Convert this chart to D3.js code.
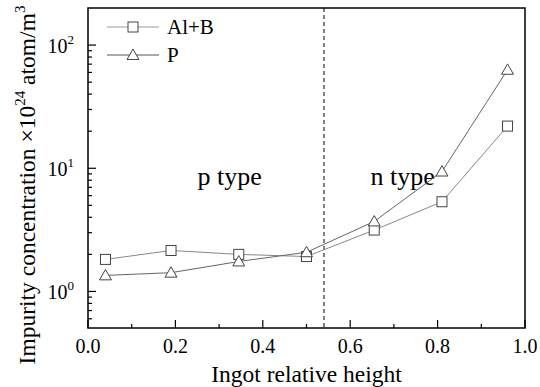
<!DOCTYPE html>
<html>
<head>
<meta charset="utf-8">
<script src="https://cdn.jsdelivr.net/npm/d3@7"></script>
<style>
  body { margin: 0; background: #fff; }
  text { font-family: "Liberation Serif", "DejaVu Serif", serif; }
</style>
</head>
<body>
<svg id="chart" width="540" height="387"></svg>
<script>
// data
var heights = [0.04, 0.19, 0.345, 0.5, 0.655, 0.81, 0.96];
var alB = [1.82, 2.15, 2.0, 1.92, 3.15, 5.35, 22];
var phos = [1.35, 1.42, 1.75, 2.08, 3.7, 9.4, 63];
var xTicks = [0.0, 0.2, 0.4, 0.6, 0.8, 1.0];
var yTicks = [1, 10, 100];
var borderX = 0.54;

var serif = "Liberation Serif, Times New Roman, serif";

var svg = d3.select("#chart").attr("font-family", serif),
    margin = {top: 8, right: 15, bottom: 59, left: 88},
    width = 540 - margin.left - margin.right,
    height = 387 - margin.top - margin.bottom,
    g = svg.append("g").attr("transform", "translate(" + margin.left + "," + margin.top + ")");

var x = d3.scaleLinear().domain([0, 1]).range([0, width]);
var y = d3.scaleLog().domain([0.505, 200]).range([height, 0]);

// minor ticks
var xMinor = d3.range(0.1, 1.0, 0.2);
g.selectAll(".xminor").data(xMinor).enter().append("line")
    .attr("x1", function(d) { return x(d); }).attr("x2", function(d) { return x(d); })
    .attr("y1", height).attr("y2", height - 4)
    .attr("stroke", "#000").attr("stroke-width", 1.2);
g.selectAll(".xmajor").data(xTicks).enter().append("line")
    .attr("x1", function(d) { return x(d); }).attr("x2", function(d) { return x(d); })
    .attr("y1", height).attr("y2", height - 8)
    .attr("stroke", "#000").attr("stroke-width", 1.2);

var yMinor = [];
[0.1, 1, 10, 100].forEach(function(dec) {
  for (var k = 2; k <= 9; k++) {
    var v = dec * k;
    if (v > 0.505 && v < 200) yMinor.push(v);
  }
});
g.selectAll(".yminor").data(yMinor).enter().append("line")
    .attr("x1", 0).attr("x2", 4)
    .attr("y1", function(d) { return y(d); }).attr("y2", function(d) { return y(d); })
    .attr("stroke", "#000").attr("stroke-width", 1.2);
g.selectAll(".ymajor").data(yTicks).enter().append("line")
    .attr("x1", 0).attr("x2", 8)
    .attr("y1", function(d) { return y(d); }).attr("y2", function(d) { return y(d); })
    .attr("stroke", "#000").attr("stroke-width", 1.2);

// frame
g.append("rect").attr("width", width).attr("height", height)
    .attr("fill", "none").attr("stroke", "#000").attr("stroke-width", 1.5);

// tick labels
g.selectAll(".xlab").data(xTicks).enter().append("text")
    .attr("x", function(d) { return x(d); }).attr("y", height + 25)
    .attr("text-anchor", "middle").attr("font-size", 20)
    .text(function(d) { return d.toFixed(1); });

var ylab = g.selectAll(".ylab").data(yTicks).enter().append("text")
    .attr("x", -14).attr("y", function(d) { return y(d) + 8; })
    .attr("text-anchor", "end").attr("font-size", 20);
ylab.append("tspan").text("10");
ylab.append("tspan").attr("font-size", 13).attr("dy", -9)
    .text(function(d) { return Math.round(Math.log10(d)); });

// axis titles
svg.append("text")
    .attr("x", margin.left + width / 2).attr("y", 382)
    .attr("text-anchor", "middle").attr("font-size", 23.5)
    .text("Ingot relative height");

var yt = svg.append("text")
    .attr("transform", "translate(35,185) rotate(-90)")
    .attr("text-anchor", "middle").attr("font-size", 23.5);
yt.append("tspan").text("Impurity concentration \u00d710");
yt.append("tspan").attr("font-size", 15).attr("dy", -10).text("24");
yt.append("tspan").attr("dy", 10).text(" atom/m");
yt.append("tspan").attr("font-size", 15).attr("dy", -10).text("3");

// dashed border line
g.append("line")
    .attr("x1", x(borderX)).attr("x2", x(borderX))
    .attr("y1", 0).attr("y2", height)
    .attr("stroke", "#000").attr("stroke-width", 1).attr("stroke-dasharray", "4,3");

g.append("text").attr("x", x(0.324)).attr("y", y(7.3))
    .attr("text-anchor", "middle").attr("font-size", 26).text("p type");
g.append("text").attr("x", x(0.72)).attr("y", y(7.3))
    .attr("text-anchor", "middle").attr("font-size", 26).text("n type");

// series
var line = d3.line()
    .x(function(d, i) { return x(heights[i]); })
    .y(function(d) { return y(d); });

var tri = d3.symbol().type(d3.symbolTriangle).size(62);

function drawSeries(vals, color, marker) {
  g.append("path").datum(vals)
      .attr("fill", "none").attr("stroke", color).attr("stroke-width", 1)
      .attr("d", line);
  vals.forEach(function(v, i) {
    drawMarker(g, x(heights[i]), y(v), marker);
  });
}

function drawMarker(sel, cx, cy, marker) {
  if (marker === "square") {
    sel.append("rect").attr("x", cx - 5).attr("y", cy - 5)
        .attr("width", 10).attr("height", 10)
        .attr("fill", "#fff").attr("stroke", "#444").attr("stroke-width", 1);
  } else {
    sel.append("path").attr("d", tri)
        .attr("transform", "translate(" + cx + "," + (cy + 1) + ")")
        .attr("fill", "#fff").attr("stroke", "#444").attr("stroke-width", 1);
  }
}

drawSeries(alB, "#888", "square");
drawSeries(phos, "#666", "triangle");

// legend
var legend = [
  {name: "Al+B", color: "#999", marker: "square", y: 27},
  {name: "P", color: "#555", marker: "triangle", y: 55}
];
legend.forEach(function(l) {
  svg.append("line").attr("x1", 107).attr("x2", 159)
      .attr("y1", l.y).attr("y2", l.y)
      .attr("stroke", l.color).attr("stroke-width", 1);
  drawMarker(svg, 133, l.y, l.marker);
  svg.append("text").attr("x", 167).attr("y", l.y + 7)
      .attr("font-size", 21).text(l.name);
});
</script>
</body>
</html>
